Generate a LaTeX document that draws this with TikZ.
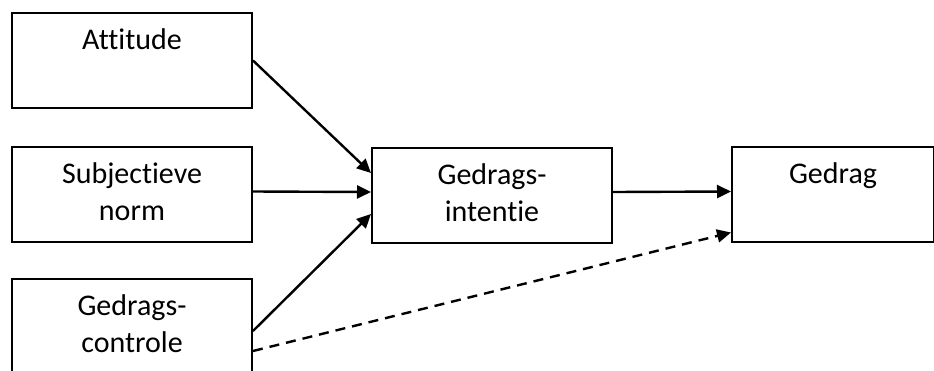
\documentclass[tikz,border=0pt]{standalone}
\usepackage{fontspec}
\setmainfont{Carlito}[Ligatures=NoCommon]
\usetikzlibrary{arrows.meta}
\tikzset{>={Triangle[length=14pt,width=13pt]}}
\tikzset{blok/.style={draw,line width=2pt,minimum width=240pt,
  minimum height=95pt,inner sep=0pt,align=center,anchor=north west,
  font=\fontsize{30}{37}\selectfont}}

\begin{document}
\begin{tikzpicture}[x=1pt,y=-1pt,line width=2.4pt]
\useasboundingbox (0,0) rectangle (934,370);
% the three inputs on the left
\node[blok] (att) at (11,12) {\strut Attitude\\\strut};
\node[blok] (norm) at (11,146) {\strut Subjectieve\\\strut norm};
\node[blok] (ctl) at (11,278) {\strut Gedrags-\\\strut controle};

\node[blok] (int) at (371,147) {\strut Gedrags-\\\strut intentie};
\node[blok,minimum width=202pt] (ged) at (731,146) {\strut Gedrag\\\strut};

\draw[->] (att.east) -- ([yshift=22.5pt]int.west);
\draw[->] ([yshift=3pt]norm.east) -- ([yshift=3.5pt]int.west);
\draw[->] ([yshift=-4.5pt]ctl.east) -- ([yshift=-18.5pt]int.west);
\draw[->] ([yshift=3.5pt]int.east) -- ([yshift=3pt]ged.west);
\draw[->,dash pattern=on 10pt off 7pt] ([yshift=-24.5pt]ctl.east)
  -- ([yshift=-38pt]ged.west);
\end{tikzpicture}
\end{document}
